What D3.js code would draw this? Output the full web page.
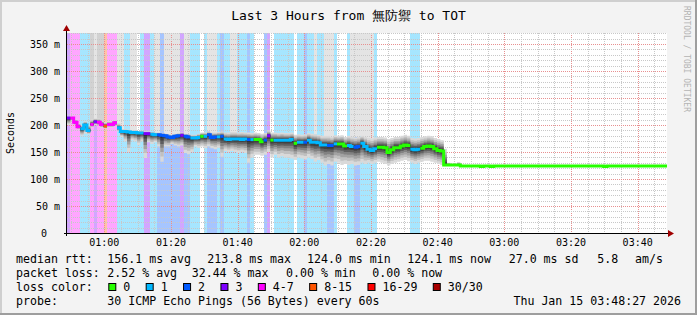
<!DOCTYPE html>
<html>
<head>
<meta charset="utf-8">
<script src="https://cdnjs.cloudflare.com/ajax/libs/d3/7.8.5/d3.min.js"></script>
<style>
html, body { margin: 0; padding: 0; background: #f3f3f3; }
svg { display: block; }
text { font-family: "DejaVu Sans Mono", monospace; fill: #000; }
</style>
</head>
<body>
<svg id="chart" width="697" height="315"></svg>
<script>
const title = "Last 3 Hours from 無防禦 to TOT";
const startTime = new Date(2026, 0, 15, 0, 48, 48);
const stepSeconds = 60;
const yMax = 370.4; // ms
const yTicks = [0, 50, 100, 150, 200, 250, 300, 350];

const lossLabels = ["0", "1", "2", "3", "4-7", "8-15", "16-29", "30/30"];
const lossColors = ["#26ff00", "#00b8ff", "#0059ff", "#7e00ff", "#ff00ff", "#ff5500", "#ff0000", "#a80000"];

// loss bucket per 60s step (index into lossLabels)
const loss = [
  3,4,4,4,1,1,1,4,3,4, 4,5,4,4,4,1,1,1,1,1,
  1,1,1,3,3,1,1,2,2,2, 2,2,2,2,3,2,2,1,1,1,
  0,1,2,2,2,1,2,1,1,1, 1,1,1,1,2,1,0,0,0,2,
  3,0,1,1,1,1,1,1,0,1, 1,2,1,1,1,1,1,1,2,2,
  1,0,0,0,1,1,2,2,1,1, 1,1,1,0,0,0,0,0,0,0,
  0,0,0,1,1,1,0,0,0,0, 0,0,0,0,0,0,0,0,0,0,
  0,0,0,0,0,0,0,0,0,0, 0,0,0,0,0,0,0,0,0,0,
  0,0,0,0,0,0,0,0,0,0, 0,0,0,0,0,0,0,0,0,0,
  0,0,0,0,0,0,0,0,0,0, 0,0,0,0,0,0,0,0,0,0
];

// median rtt per step (ms)
const median = [
  213,213,205,197,193,200,190,201,206,205, 201,198,201,201,204,195,188,188,187,186,
  186,185,185,184,184,183,182,182,181,180, 178,177,179,180,181,179,178,176,176,177,
  179,179,182,177,178,178,179,174,173,174, 174,174,173,174,173,173,173,173,169,172,
  180,172,172,172,172,172,172,173,166,168, 168,168,172,168,168,167,163,163,162,162,
  165,165,165,161,162,160,159,160,166,160, 155,153,156,159,159,158,149,154,158,158,
  161,163,162,155,154,155,157,160,161,160, 156,153,152,126,126,126,126,126,124,124,
  124,124,124,124,123,124,124,123,124,124, 124,124,124,124,124,124,124,124,124,124,
  124,124,124,124,124,124,124,124,124,124, 124,124,124,124,124,124,124,124,124,124,
  124,123,124,124,124,124,124,124,124,124, 124,124,124,124,124,124,124,124,124,124
];

// smoke extent (highest / lowest ping) per step, ms; steps after these have no spread
const smokeHi = [
  216,216,210,203,200,207,200,210,212,212, 208,205,207,207,209,203,192,192,191,190,
  190,189,189,188,188,187,186,186,185,184, 183,182,184,185,186,184,183,182,182,184,
  186,186,188,186,186,187,188,186,186,187, 187,186,187,186,186,185,186,185,184,185,
  190,186,186,185,186,185,185,186,182,183, 182,183,185,184,183,182,180,180,180,178,
  181,180,181,178,180,178,177,178,180,178, 176,175,177,178,178,177,174,176,178,178,
  180,182,180,176,175,176,178,179,180,179, 176,174,172,156,130,128,126,131
];
const smokeLo = [
  200,208,200,192,180,184,183,196,200,199, 195,193,196,196,198,188,178,170,150,172,
  170,163,170,139,168,165,168,160,132,160, 160,165,162,160,162,148,146,150,160,158,
  160,157,160,157,155,158,141,152,150,152, 150,148,150,148,130,140,145,145,143,145,
  150,140,145,140,142,140,140,138,135,140, 138,136,140,137,132,135,130,125,128,125,
  132,130,126,128,126,128,125,126,130,128, 130,128,130,132,130,128,125,128,130,132,
  134,135,133,130,128,130,132,134,134,132, 130,128,126,124,124,125,126,126
];

// shade of the area above the smoke: 0 none, 1 light grey, 2 grey, 3 white
const topShade = [
  0,0,0,0,0,0,0,2,1,2, 2,0,0,0,0,1,1,0,0,1,
  1,3,0,0,0,0,1,1,0,1, 1,1,1,1,0,1,1,0,0,0,
  0,0,1,1,1,0,0,0,0,1, 1,0,0,0,0,0,0,0,0,0,
  0,0,0,0,0,0,0,0,0,0, 0,0,0,0,1,0,0,1,1,1,
  0,0,0,0,0,1,1,1,1,1, 1,1,0,0,0,0,0,0,0,0
];
const shadeColors = [null, "#e4e4e4", "#d2d2d2", "#ffffff"];

const rttStats = ["median rtt:", "156.1 ms avg", "213.8 ms max", "124.0 ms min", "124.1 ms now", "27.0 ms sd", "5.8", "am/s"];
const lossStats = ["packet loss:", "2.52 % avg", "32.44 % max", "0.00 % min", "0.00 % now"];
const probeText = ["probe:", "30 ICMP Echo Pings (56 Bytes) every 60s"];
const stampText = "Thu Jan 15 03:48:27 2026";

const W = 697, H = 315;
const pL = 67, pR = 667, pT = 33, pB = 233;
const nSteps = median.length;
const svg = d3.select("#chart");

const t = i => new Date(+startTime + i * stepSeconds * 1000);
const x = d3.scaleTime().domain([startTime, t(nSteps)]).range([pL, pR]);
const y = d3.scaleLinear().domain([0, yMax]).range([pB, pT]);

// frame
svg.append("rect").attr("width", W).attr("height", H).attr("fill", "#f3f3f3");
svg.append("rect").attr("width", W).attr("height", 2).attr("fill", "#cfcfcf");
svg.append("rect").attr("width", 2).attr("height", H).attr("fill", "#cfcfcf");
svg.append("rect").attr("x", W - 2).attr("width", 2).attr("height", H).attr("fill", "#9e9e9e");
svg.append("rect").attr("y", H - 2).attr("width", W).attr("height", 2).attr("fill", "#9e9e9e");
svg.append("rect").attr("x", pL).attr("y", pT).attr("width", pR - pL).attr("height", pB - pT).attr("fill", "#fff");

// loss background bands
const bandColor = l => d3.interpolateRgb("#ffffff", lossColors[l])(0.35);
svg.append("g").selectAll("rect")
  .data(loss.map((l, i) => ({l, i})).filter(d => d.l > 0))
  .join("rect")
    .attr("x", d => x(t(d.i)))
    .attr("width", d => x(t(d.i + 1)) - x(t(d.i)))
    .attr("y", pT)
    .attr("height", pB - pT)
    .attr("fill", d => bandColor(d.l))
    .attr("shape-rendering", "crispEdges");

// grey caps above the smoke
svg.append("g").selectAll("rect")
  .data(topShade.map((s, i) => ({s, i})).filter(d => d.s > 0))
  .join("rect")
    .attr("x", d => x(t(d.i)))
    .attr("width", d => x(t(d.i + 1)) - x(t(d.i)))
    .attr("y", pT)
    .attr("height", d => y(smokeHi[d.i]) - pT)
    .attr("fill", d => shadeColors[d.s])
    .attr("shape-rendering", "crispEdges");

// grid
const grid = svg.append("g").attr("stroke-dasharray", "1,1").attr("stroke-width", 1);
x.ticks(d3.timeMinute.every(5)).forEach(d => {
  const major = d.getMinutes() % 20 === 0;
  const px = Math.round(x(d)) + 0.5;
  grid.append("line").attr("x1", px).attr("x2", px).attr("y1", pT).attr("y2", pB)
    .attr("stroke", major ? "#e89090" : "#c8c8c8");
});
d3.range(10, yMax, 10).forEach(v => {
  const major = v % 50 === 0;
  const py = Math.round(y(v)) + 0.5;
  grid.append("line").attr("x1", pL).attr("x2", pR).attr("y1", py).attr("y2", py)
    .attr("stroke", major ? "#e89090" : "#c8c8c8");
});

// smoke
const smokePts = smokeHi.map((h, i) => ({i, hi: h, lo: smokeLo[i], m: median[i]}));
smokePts.push(Object.assign({}, smokePts[smokePts.length - 1], {i: smokePts.length}));
const layers = [
  {f: 1.0, c: "#d9d9d9"}, {f: 0.8, c: "#c0c0c0"}, {f: 0.63, c: "#a2a2a2"},
  {f: 0.47, c: "#828282"}, {f: 0.33, c: "#5e5e5e"}, {f: 0.2, c: "#414141"},
  {f: 0.09, c: "#2a2a2a"}
];
const smoke = svg.append("g");
layers.forEach(L => {
  const area = d3.area()
    .curve(d3.curveStepAfter)
    .x(d => x(t(d.i)))
    .y0(d => y(d.m - (d.m - d.lo) * L.f))
    .y1(d => y(d.m + (d.hi - d.m) * L.f));
  smoke.append("path").datum(smokePts).attr("d", area).attr("fill", L.c);
});

// median line, one run per loss colour
const runs = [];
loss.forEach((l, i) => {
  const last = runs[runs.length - 1];
  if (last && last.l === l && last.end === i - 1) last.end = i;
  else runs.push({l, start: i, end: i});
});
const medLine = d3.line().curve(d3.curveStepAfter).x(d => x(t(d.i))).y(d => y(d.v));
runs.forEach(r => {
  const pts = d3.range(r.start, r.end + 1).map(i => ({i, v: median[i]}));
  pts.push({i: r.end + 1, v: median[r.end]});
  svg.append("path").datum(pts).attr("d", medLine)
    .attr("fill", "none").attr("stroke", lossColors[r.l]).attr("stroke-width", 3);
});

// axes
svg.append("line").attr("x1", pL - 3).attr("x2", pR + 3).attr("y1", pB + 0.5).attr("y2", pB + 0.5)
  .attr("stroke", "#000");
svg.append("line").attr("x1", pL - 0.5).attr("x2", pL - 0.5).attr("y1", pB + 3).attr("y2", pT - 3)
  .attr("stroke", "#000");
svg.append("path").attr("d", `M${pR + 1},${pB - 3}L${pR + 7},${pB + 0.5}L${pR + 1},${pB + 4}Z`).attr("fill", "#a00000");
svg.append("path").attr("d", `M${pL - 4},${pT - 2}L${pL - 0.5},${pT - 8}L${pL + 3},${pT - 2}Z`).attr("fill", "#a00000");

// x labels
svg.append("g").selectAll("text")
  .data(x.ticks(d3.timeMinute.every(20)))
  .join("text")
    .attr("x", d => x(d))
    .attr("y", pB + 13)
    .attr("text-anchor", "middle")
    .attr("font-size", "10px")
    .text(d3.timeFormat("%H:%M"));

// y labels
svg.append("g").selectAll("text")
  .data(yTicks)
  .join("text")
    .attr("x", d => d === 0 ? 47 : 60)
    .attr("y", d => y(d))
    .attr("dy", "0.35em")
    .attr("text-anchor", "end")
    .attr("font-size", "10px")
    .text(d => d === 0 ? "0" : d + " m");

svg.append("text")
  .attr("transform", "translate(14,133) rotate(-90)")
  .attr("text-anchor", "middle")
  .attr("font-size", "10px")
  .text("Seconds");

svg.append("text")
  .attr("x", 348.5).attr("y", 20)
  .attr("text-anchor", "middle")
  .attr("font-size", "13px")
  .text(title);

svg.append("text")
  .attr("transform", "translate(684,6) rotate(90)")
  .attr("font-size", "8px")
  .style("fill", "#b4b4b4")
  .text("RRDTOOL / TOBI OETIKER");

// legend
const legend = svg.append("g").attr("font-size", "11.6px");
const rttX = [16, 107.3, 207.3, 307, 407.3, 508.7, 597.3, 635];
rttStats.forEach((s, k) => legend.append("text").attr("x", rttX[k]).attr("y", 263).text(s));
const lossX = [16, 107.3, 191.7, 286, 372.3];
lossStats.forEach((s, k) => legend.append("text").attr("x", lossX[k]).attr("y", 277).text(s));

legend.append("text").attr("x", 16).attr("y", 291).text("loss color:");
let cx = 108.3;
lossLabels.forEach((lab, k) => {
  legend.append("rect").attr("x", cx + 0.5).attr("y", 283.5).attr("width", 7).attr("height", 7)
    .attr("fill", lossColors[k]).attr("stroke", "#000").attr("stroke-width", 1);
  legend.append("text").attr("x", cx + 15).attr("y", 291).text(lab);
  cx += 15 + lab.length * 6.98 + 15.4;
});

legend.append("text").attr("x", 16).attr("y", 305).text(probeText[0]);
legend.append("text").attr("x", 107.3).attr("y", 305).text(probeText[1]);
legend.append("text").attr("x", 681).attr("y", 305).attr("text-anchor", "end").text(stampText);
</script>
</body>
</html>
